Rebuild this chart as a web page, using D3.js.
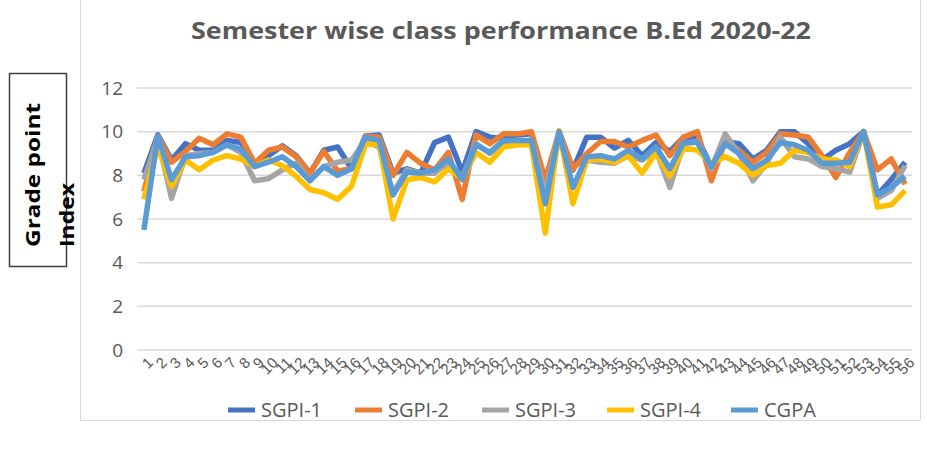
<!DOCTYPE html>
<html>
<head>
<meta charset="utf-8">
<script src="https://cdn.jsdelivr.net/npm/d3@7"></script>
<style>
  body { margin: 0; background: #fff; }
  svg { display: block; font-family: "Open Sans", "Liberation Sans", sans-serif; }
</style>
</head>
<body>
<div id="chart"></div>
<script>
"use strict";

// data
var categories = d3.range(1, 57);
var sgpi1 = [8.1, 9.85, 8.7, 9.45, 9.15, 9.15, 9.6, 9.5, 8.45, 8.9, 9.35, 8.9, 8.1, 9.15, 9.3, 8.3, 9.8, 9.85, 8.1, 8.3,
             8.1, 9.5, 9.75, 8.15, 10.0, 9.75, 9.7, 9.85, 9.9, 7.3, 10.0, 8.25, 9.75, 9.75, 9.25, 9.6, 8.9, 9.5, 9.1, 9.75,
             9.7, 8.4, 9.55, 9.45, 8.75, 9.15, 10.0, 10.0, 9.45, 8.7, 9.15, 9.45, 10.0, 7.1, 7.8, 8.6];
var sgpi2 = [7.25, 9.8, 8.6, 9.1, 9.7, 9.4, 9.9, 9.75, 8.55, 9.15, 9.3, 8.85, 8.1, 9.1, 8.2, 8.3, 9.8, 9.75, 8.0, 9.05,
             8.55, 8.25, 9.05, 6.9, 9.85, 9.45, 9.9, 9.9, 10.0, 7.8, 10.0, 8.3, 9.0, 9.55, 9.55, 9.3, 9.6, 9.85, 8.9, 9.75,
             10.0, 7.75, 9.55, 9.15, 8.6, 9.05, 9.9, 9.85, 9.75, 8.9, 7.9, 9.05, 10.0, 8.25, 8.75, 7.6];
var sgpi3 = [7.8, 9.7, 6.95, 8.9, 9.0, 9.05, 9.4, 9.05, 7.75, 7.85, 8.25, 8.55, 7.8, 8.4, 8.6, 8.7, 9.6, 9.3, 7.2, 8.25,
             8.1, 8.1, 8.6, 7.9, 9.45, 9.0, 9.55, 9.6, 9.55, 7.2, 10.0, 7.45, 8.7, 8.6, 8.55, 8.9, 8.7, 9.15, 7.45, 9.45,
             9.55, 8.3, 9.9, 9.0, 7.75, 8.55, 9.75, 8.85, 8.75, 8.4, 8.3, 8.15, 10.0, 6.95, 7.3, 8.45];
var sgpi4 = [6.9, 9.3, 7.5, 8.7, 8.25, 8.7, 8.9, 8.75, 8.4, 8.7, 8.45, 7.95, 7.35, 7.2, 6.9, 7.5, 9.4, 9.45, 6.0, 7.8,
             7.9, 7.7, 8.3, 7.85, 9.05, 8.6, 9.3, 9.4, 9.4, 5.35, 10.05, 6.7, 8.7, 8.75, 8.6, 8.9, 8.1, 9.05, 7.95, 9.25,
             9.15, 8.55, 8.85, 8.55, 8.0, 8.45, 8.55, 9.15, 9.05, 8.75, 8.7, 8.4, 10.0, 6.55, 6.65, 7.3];
var cgpa  = [5.5, 9.8, 7.8, 8.85, 8.9, 9.05, 9.4, 9.2, 8.4, 8.6, 8.85, 8.4, 7.75, 8.4, 8.0, 8.3, 9.75, 9.6, 7.1, 8.15,
             8.1, 8.25, 8.75, 7.8, 9.4, 9.05, 9.6, 9.6, 9.6, 6.7, 10.0, 7.45, 8.85, 8.9, 8.75, 9.15, 8.75, 9.3, 8.3, 9.5,
             9.5, 8.4, 9.45, 9.0, 8.3, 8.7, 9.5, 9.4, 9.15, 8.55, 8.55, 8.6, 10.0, 7.1, 7.45, 7.95];
var seriesNames = ["SGPI-1", "SGPI-2", "SGPI-3", "SGPI-4", "CGPA"];
var seriesValues = [sgpi1, sgpi2, sgpi3, sgpi4, cgpa];
var colors = ["#4472C4", "#ED7D31", "#A5A5A5", "#FFC000", "#5B9BD5"];
var yTicks = [0, 2, 4, 6, 8, 10, 12];

var width = 927, height = 449;
var plot = { left: 137, right: 912, top: 88, bottom: 350 };

var svg = d3.select("#chart").append("svg")
    .attr("width", width)
    .attr("height", height);

// chart frame
svg.append("path")
    .attr("d", "M80.5,0 V420.5 H920.5 V0")
    .attr("fill", "none")
    .attr("stroke", "#d9d9d9")
    .attr("stroke-width", 1);

var x = d3.scaleBand()
    .domain(categories)
    .range([plot.left, plot.right]);

var y = d3.scaleLinear()
    .domain([0, 12])
    .range([plot.bottom, plot.top]);

// gridlines
svg.append("g")
    .selectAll("line")
    .data(yTicks)
    .enter()
    .append("line")
    .attr("x1", plot.left)
    .attr("x2", plot.right)
    .attr("y1", function (d) { return y(d); })
    .attr("y2", function (d) { return y(d); })
    .attr("stroke", "#d9d9d9")
    .attr("stroke-width", 1.5);

// y axis labels
var yAxis = svg.append("g")
    .attr("transform", "translate(" + (plot.left - 14) + ",0)")
    .call(d3.axisLeft(y).tickValues(yTicks).tickSize(0).tickPadding(0));
yAxis.select(".domain").remove();
yAxis.selectAll("text")
    .attr("fill", "#595959")
    .attr("font-size", "19px")
    .attr("font-family", "Open Sans, sans-serif");

// x axis labels (rotated)
var xAxis = svg.append("g")
    .attr("transform", "translate(0," + (plot.bottom + 9) + ")")
    .call(d3.axisBottom(x).tickSize(0).tickPadding(0));
xAxis.select(".domain").remove();
xAxis.selectAll("text")
    .attr("fill", "#595959")
    .attr("font-size", "15px")
    .attr("text-anchor", "end")
    .attr("dy", "0.7em")
    .attr("transform", "rotate(-45) translate(4,0)");

// lines
var line = d3.line()
    .x(function (d, i) { return x(categories[i]) + x.bandwidth() / 2; })
    .y(function (d) { return y(d); });

svg.append("g")
    .selectAll("path")
    .data(seriesValues)
    .enter()
    .append("path")
    .attr("d", line)
    .attr("fill", "none")
    .attr("stroke", function (d, i) { return colors[i]; })
    .attr("stroke-width", 5.5)
    .attr("stroke-linejoin", "round");

// title
svg.append("text")
    .attr("x", 501)
    .attr("y", 39)
    .attr("text-anchor", "middle")
    .attr("fill", "#595959")
    .attr("font-size", "24px")
    .attr("font-weight", "bold")
    .attr("textLength", 620)
    .attr("lengthAdjust", "spacingAndGlyphs")
    .text("Semester wise class performance B.Ed 2020-22");

// y axis title in its box
svg.append("rect")
    .attr("x", 9.5)
    .attr("y", 73.5)
    .attr("width", 57)
    .attr("height", 193)
    .attr("fill", "none")
    .attr("stroke", "#404040")
    .attr("stroke-width", 1.5);

var yTitle = svg.append("text")
    .attr("transform", "translate(0,247) rotate(-90)")
    .attr("text-anchor", "start")
    .attr("fill", "#000")
    .attr("font-size", "19px")
    .attr("font-weight", "bold");
yTitle.append("tspan").attr("x", 0).attr("y", 40)
    .attr("textLength", 144).attr("lengthAdjust", "spacingAndGlyphs")
    .text("Grade point");
yTitle.append("tspan").attr("x", 0).attr("y", 74)
    .attr("textLength", 64).attr("lengthAdjust", "spacingAndGlyphs")
    .text("Index");

// legend
var legendX = [228, 355, 482, 607, 731];
var legend = svg.append("g")
    .selectAll("g")
    .data(seriesNames)
    .enter()
    .append("g")
    .attr("transform", function (d, i) { return "translate(" + legendX[i] + ",410)"; });

legend.append("line")
    .attr("x1", 0)
    .attr("x2", 27)
    .attr("stroke", function (d, i) { return colors[i]; })
    .attr("stroke-width", 5);

legend.append("text")
    .attr("x", 33)
    .attr("dy", "0.35em")
    .attr("fill", "#595959")
    .attr("font-size", "20px")
    .text(function (d) { return d; });
</script>
</body>
</html>
